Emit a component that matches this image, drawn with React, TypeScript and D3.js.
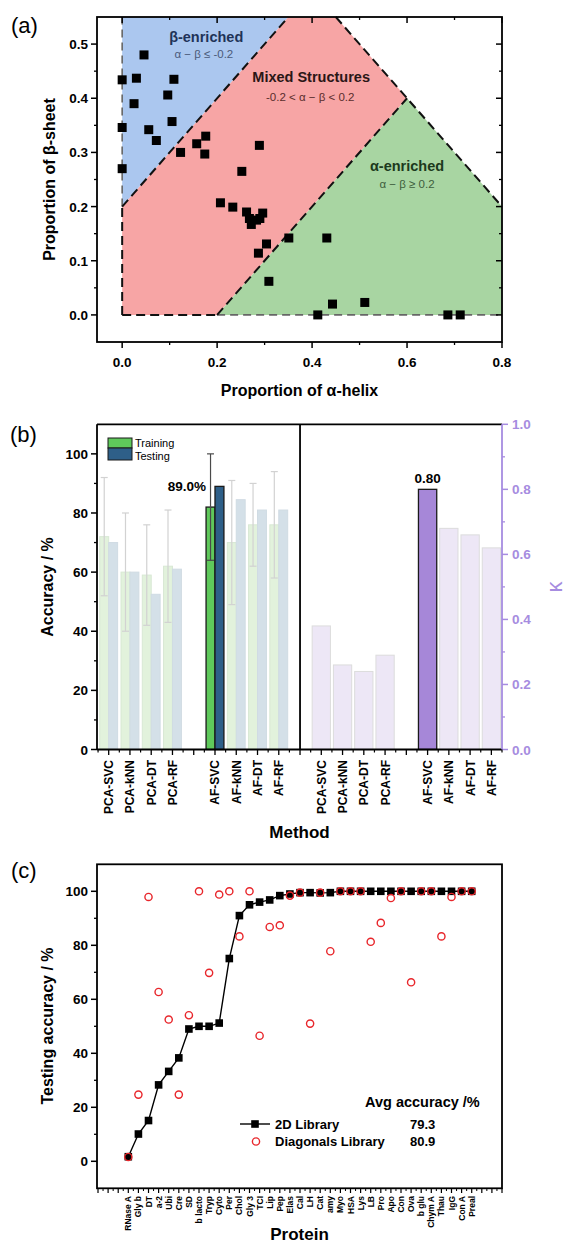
import React from 'react';
import * as d3 from 'd3';

// ---------- Panel (a) data ----------
const alphaHelix = [0, 0.046, 0.030, 0.025, 0, 0.056, 0.072, 0.096, 0.109, 0.105,
  0, 0.123, 0.157, 0.176, 0.174, 0.289, 0.252, 0.207, 0.233, 0.262,
  0.268, 0.272, 0.283, 0.290, 0.296, 0.304, 0.287, 0.309, 0.351, 0.431,
  0.412, 0.443, 0.511, 0.686, 0.712];
const betaSheet = [0.434, 0.48, 0.437, 0.39, 0.346, 0.342, 0.322, 0.406, 0.435, 0.357,
  0.27, 0.30, 0.316, 0.33, 0.297, 0.313, 0.265, 0.207, 0.199, 0.19,
  0.178, 0.167, 0.175, 0.178, 0.188, 0.131, 0.114, 0.062, 0.142, 0.142,
  0, 0.02, 0.023, 0, 0];
const betaRegion = [[0, 0.2], [0, 0.55], [0.35, 0.55]];
const mixedRegion = [[0, 0], [0.2, 0], [0.6, 0.4], [0.45, 0.55], [0.35, 0.55], [0, 0.2]];
const alphaRegion = [[0.2, 0], [0.8, 0], [0.8, 0.2], [0.6, 0.4]];
const dashedBounds = [
  [[0, 0.2], [0.35, 0.55]],
  [[0.2, 0], [0.6, 0.4]],
  [[0.45, 0.55], [0.8, 0.2]],
  [[0, 0], [0, 0.2]],
  [[0, 0], [0.2, 0]],
];
const greyBounds = [
  [[0, 0.2], [0, 0.55]],
  [[0.2, 0], [0.8, 0]],
];
const xTicksA = [0, 0.2, 0.4, 0.6, 0.8];
const yTicksA = [0, 0.1, 0.2, 0.3, 0.4, 0.5];

// ---------- Panel (b) data ----------
const methods = ['PCA-SVC', 'PCA-kNN', 'PCA-DT', 'PCA-RF', 'AF-SVC', 'AF-kNN', 'AF-DT', 'AF-RF'];
const trainAcc = [72, 60, 59, 62, 82, 70, 76, 76];
const trainErr = [20, 20, 17, 19, 18, 21, 14, 18];
const testAcc = [70, 60, 52.5, 61, 89, 84.5, 81, 81];
const kappa = [0.38, 0.26, 0.24, 0.29, 0.80, 0.68, 0.66, 0.62];
const highlightMethod = 'AF-SVC';
const accTicks = [0, 20, 40, 60, 80, 100];
const kappaTicks = [0, 0.2, 0.4, 0.6, 0.8, 1.0];

// ---------- Panel (c) data ----------
const proteins = ['RNase A', 'Gly b', 'DT', 'a-2', 'Ubi', 'Cre', 'SD', 'b lacto', 'Tryp', 'Cyto',
  'Per', 'Chol', 'Gly 3', 'TCI', 'Lip', 'Pep', 'Elas', 'Cal', 'LH', 'Cat',
  'amy', 'Myo', 'HSA', 'Lys', 'LB', 'Pro', 'Apo', 'Con', 'Ova', 'b glu',
  'Chym A', 'Thau', 'IgG', 'Con A', 'Preal'];
const lib2D = [1.7, 10.1, 15.1, 28.3, 33.3, 38.3, 49.0, 50.0, 50.0, 51.2,
  75.1, 91.0, 95.0, 96.0, 96.8, 98.4, 99.0, 99.5, 99.5, 99.4,
  99.5, 100, 100, 100, 100, 100, 100, 100, 100, 100,
  100, 100, 100, 100, 100];
const libDiag = [1.6, 24.7, 97.9, 62.7, 52.5, 24.7, 54.1, 100, 69.8, 98.8,
  100, 83.3, 100, 46.5, 86.8, 87.4, 98.4, 99.5, 51.0, 99.5,
  77.8, 100, 100, 100, 81.3, 88.3, 97.5, 100, 66.3, 100,
  100, 83.3, 97.9, 100, 100];
const avg2D = '79.3';
const avgDiag = '80.9';
const accTicksC = [0, 20, 40, 60, 80, 100];

const FONT = "'Liberation Sans', Arial, Helvetica, sans-serif";
const PURPLE = '#a68ce0';

export default function App() {
  // ===== Panel a scales =====
  const xA = d3.scaleLinear().domain([-0.053, 0.8]).range([97, 502]);
  const yA = d3.scaleLinear().domain([-0.05, 0.55]).range([342, 17]);
  const poly = (pts: number[][]) => pts.map(p => `${xA(p[0])},${yA(p[1])}`).join(' ');
  const lineA = d3.line<number[]>().x(p => xA(p[0])).y(p => yA(p[1]));

  // ===== Panel b scales =====
  const xB = d3.scaleLinear().domain([-0.55, 18.5]).range([97, 502]);
  const yAcc = d3.scaleLinear().domain([0, 110]).range([749.5, 424.3]);
  const yK = d3.scaleLinear().domain([0, 1]).range([749.5, 424.3]);
  const slotOf = (i: number) => i + (i >= 4 ? 1 : 0);
  const halfW = 0.42;

  // ===== Panel c scales =====
  const xC = d3.scaleLinear().domain([-3.1, 37]).range([97, 502]);
  const yC = d3.scaleLinear().domain([-10, 110]).range([1188.3, 864.3]);
  const line2D = d3.line<number>().x((_, i) => xC(i)).y(v => yC(v));

  const minorA_y = d3.range(0.05, 0.55, 0.1);
  const minorA_x = [0.1, 0.3, 0.5, 0.7];

  return (
    <svg width={567} height={1244} style={{ position: 'absolute', left: 0, top: 0, background: '#fff' }}
      fontFamily={FONT}>
      <rect x={0} y={0} width={567} height={1244} fill="#fff" />

      {/* ================= PANEL A ================= */}
      <text x={11} y={33} fontSize={22}>(a)</text>
      <polygon points={poly(betaRegion)} fill="#abc7ef" />
      <polygon points={poly(mixedRegion)} fill="#f7a5a5" />
      <polygon points={poly(alphaRegion)} fill="#a8d5a2" />
      {greyBounds.map((seg, i) => (
        <path key={'g' + i} d={lineA(seg) || ''} stroke="#666" strokeWidth={1.6} strokeDasharray="8,5" fill="none" />
      ))}
      {dashedBounds.map((seg, i) => (
        <path key={'d' + i} d={lineA(seg) || ''} stroke="#111" strokeWidth={2} strokeDasharray="9,5" fill="none" />
      ))}
      {/* region annotations */}
      <text x={xA(0.177)} y={42} fontSize={14.5} fontWeight="bold" textAnchor="middle" fill="#1f3358">β-enriched</text>
      <text x={xA(0.172)} y={58} fontSize={11.5} textAnchor="middle" fill="#4a5a7a">α − β ≤ -0.2</text>
      <text x={xA(0.398)} y={82} fontSize={14.5} fontWeight="bold" textAnchor="middle" fill="#2a1616">Mixed Structures</text>
      <text x={xA(0.396)} y={101} fontSize={11.5} textAnchor="middle" fill="#5a2c2c">-0.2 &lt; α − β &lt; 0.2</text>
      <text x={xA(0.6)} y={171} fontSize={14.5} fontWeight="bold" textAnchor="middle" fill="#1c3a1c">α-enriched</text>
      <text x={xA(0.6)} y={188} fontSize={11.5} textAnchor="middle" fill="#3d5e3d">α − β ≥ 0.2</text>
      {/* points */}
      {alphaHelix.map((a, i) => (
        <rect key={'p' + i} x={xA(a) - 4.5} y={yA(betaSheet[i]) - 4.5} width={9} height={9} fill="#000" />
      ))}
      {/* frame */}
      <rect x={97} y={17} width={405} height={325} fill="none" stroke="#000" strokeWidth={1.8} />
      {/* ticks */}
      {yTicksA.map(t => (
        <g key={'ya' + t}>
          <line x1={91} x2={97} y1={yA(t)} y2={yA(t)} stroke="#000" strokeWidth={1.5} />
          <line x1={502} x2={496} y1={yA(t)} y2={yA(t)} stroke="#000" strokeWidth={1.5} />
          <text x={88} y={yA(t) + 5} fontSize={13.5} fontWeight="bold" textAnchor="end">{t.toFixed(1)}</text>
        </g>
      ))}
      {minorA_y.map(t => (
        <g key={'yam' + t}>
          <line x1={94} x2={97} y1={yA(t)} y2={yA(t)} stroke="#000" strokeWidth={1.3} />
          <line x1={502} x2={499} y1={yA(t)} y2={yA(t)} stroke="#000" strokeWidth={1.3} />
        </g>
      ))}
      {xTicksA.map(t => (
        <g key={'xa' + t}>
          <line x1={xA(t)} x2={xA(t)} y1={342} y2={348} stroke="#000" strokeWidth={1.5} />
          <line x1={xA(t)} x2={xA(t)} y1={17} y2={23} stroke="#000" strokeWidth={1.5} />
          <text x={xA(t)} y={367} fontSize={13.5} fontWeight="bold" textAnchor="middle">{t.toFixed(1)}</text>
        </g>
      ))}
      {minorA_x.map(t => (
        <g key={'xam' + t}>
          <line x1={xA(t)} x2={xA(t)} y1={342} y2={345} stroke="#000" strokeWidth={1.3} />
          <line x1={xA(t)} x2={xA(t)} y1={17} y2={20} stroke="#000" strokeWidth={1.3} />
        </g>
      ))}
      <text x={299.5} y={396} fontSize={16} fontWeight="bold" textAnchor="middle">Proportion of α-helix</text>
      <text transform={`translate(55,179.5) rotate(-90)`} fontSize={16} fontWeight="bold" textAnchor="middle">Proportion of β-sheet</text>

      {/* ================= PANEL B ================= */}
      <text x={10} y={442} fontSize={22}>(b)</text>
      {/* accuracy bars */}
      {methods.map((m, i) => {
        const s = slotOf(i);
        const hi = m === highlightMethod;
        return (
          <g key={'acc' + m}>
            <rect x={xB(s - halfW)} y={yAcc(trainAcc[i])} width={xB(s) - xB(s - halfW)} height={yAcc(0) - yAcc(trainAcc[i])}
              fill={hi ? '#5fc95b' : '#e2f2dc'} stroke={hi ? '#1a1a1a' : '#d8e8d4'} strokeWidth={hi ? 1.3 : 1} />
            <rect x={xB(s)} y={yAcc(testAcc[i])} width={xB(s + halfW) - xB(s)} height={yAcc(0) - yAcc(testAcc[i])}
              fill={hi ? '#2e5f88' : '#d4e0e8'} stroke={hi ? '#1a1a1a' : '#d0dbe3'} strokeWidth={hi ? 1.3 : 1} />
          </g>
        );
      })}
      {methods.map((m, i) => {
        const s = slotOf(i);
        const hi = m === highlightMethod;
        const cx = xB(s - halfW / 2);
        const c = hi ? '#4a4a4a' : '#d2d2d2';
        return (
          <g key={'err' + m}>
            <line x1={cx} x2={cx} y1={yAcc(trainAcc[i] + trainErr[i])} y2={yAcc(trainAcc[i] - trainErr[i])} stroke={c} strokeWidth={1.2} />
            <line x1={cx - 3.5} x2={cx + 3.5} y1={yAcc(trainAcc[i] + trainErr[i])} y2={yAcc(trainAcc[i] + trainErr[i])} stroke={c} strokeWidth={1.2} />
            <line x1={cx - 3.5} x2={cx + 3.5} y1={yAcc(trainAcc[i] - trainErr[i])} y2={yAcc(trainAcc[i] - trainErr[i])} stroke={c} strokeWidth={1.2} />
          </g>
        );
      })}
      {/* kappa bars */}
      {methods.map((m, i) => {
        const s = slotOf(i) + 10;
        const hi = m === highlightMethod;
        return (
          <rect key={'k' + m} x={xB(s - 0.43)} y={yK(kappa[i])} width={xB(s + 0.43) - xB(s - 0.43)} height={yK(0) - yK(kappa[i])}
            fill={hi ? '#a687d8' : '#ede7f6'} stroke={hi ? '#1a1a1a' : '#dcdcdc'} strokeWidth={hi ? 1.3 : 1} />
        );
      })}
      <text x={206} y={491} fontSize={13.5} fontWeight="bold" textAnchor="end">
        {testAcc[methods.indexOf(highlightMethod)].toFixed(1)}%
      </text>
      <text x={xB(slotOf(methods.indexOf(highlightMethod)) + 10)} y={483} fontSize={13.5} fontWeight="bold" textAnchor="middle">
        {kappa[methods.indexOf(highlightMethod)].toFixed(2)}
      </text>
      {/* legend */}
      <rect x={108} y={438} width={24} height={10} fill="#5fc95b" stroke="#1a1a1a" strokeWidth={1} />
      <rect x={108} y={448} width={24} height={12} fill="#2e5f88" stroke="#1a1a1a" strokeWidth={1} />
      <text x={135} y={447} fontSize={11}>Training</text>
      <text x={135} y={460} fontSize={11}>Testing</text>
      {/* frame */}
      <line x1={97} x2={502} y1={424.3} y2={424.3} stroke="#000" strokeWidth={1.8} />
      <line x1={97} x2={502} y1={749.5} y2={749.5} stroke="#000" strokeWidth={1.8} />
      <line x1={97} x2={97} y1={424.3} y2={749.5} stroke="#000" strokeWidth={1.8} />
      <line x1={xB(9)} x2={xB(9)} y1={424.3} y2={749.5} stroke="#000" strokeWidth={1.8} />
      <line x1={502} x2={502} y1={424.3} y2={749.5} stroke={PURPLE} strokeWidth={1.8} />
      {accTicks.map(t => (
        <g key={'ab' + t}>
          <line x1={91} x2={97} y1={yAcc(t)} y2={yAcc(t)} stroke="#000" strokeWidth={1.5} />
          <text x={88} y={yAcc(t) + 5} fontSize={13.5} fontWeight="bold" textAnchor="end">{t}</text>
        </g>
      ))}
      {d3.range(10, 110, 20).map(t => (
        <line key={'abm' + t} x1={94} x2={97} y1={yAcc(t)} y2={yAcc(t)} stroke="#000" strokeWidth={1.3} />
      ))}
      {kappaTicks.map(t => (
        <g key={'kb' + t}>
          <line x1={502} x2={508} y1={yK(t)} y2={yK(t)} stroke={PURPLE} strokeWidth={1.5} />
          <text x={512} y={yK(t) + 5} fontSize={13.5} fontWeight="bold" fill={PURPLE}>{t.toFixed(1)}</text>
        </g>
      ))}
      {[0.1, 0.3, 0.5, 0.7, 0.9].map(t => (
        <line key={'kbm' + t} x1={502} x2={505} y1={yK(t)} y2={yK(t)} stroke={PURPLE} strokeWidth={1.3} />
      ))}
      {d3.range(0, 19).map(s => (
        <line key={'xbt' + s} x1={xB(s)} x2={xB(s)} y1={749.5} y2={755} stroke="#000" strokeWidth={1.3} />
      ))}
      {d3.range(-0.5, 18.6, 1).map(s => (
        <line key={'xbm' + s} x1={xB(s)} x2={xB(s)} y1={749.5} y2={752.5} stroke="#000" strokeWidth={1.2} />
      ))}
      {methods.map((m, i) => (
        <g key={'lb' + m}>
          <text transform={`translate(${xB(slotOf(i)) + 4.5},760) rotate(-90)`} fontSize={12} fontWeight="bold" textAnchor="end">{m}</text>
          <text transform={`translate(${xB(slotOf(i) + 10) + 4.5},760) rotate(-90)`} fontSize={12} fontWeight="bold" textAnchor="end">{m}</text>
        </g>
      ))}
      <text x={299.5} y={838} fontSize={17} fontWeight="bold" textAnchor="middle">Method</text>
      <text transform={`translate(53,587) rotate(-90)`} fontSize={16} fontWeight="bold" textAnchor="middle">Accuracy / %</text>
      <text transform={`translate(562,587) rotate(-90)`} fontSize={22} fill={PURPLE} textAnchor="middle">κ</text>

      {/* ================= PANEL C ================= */}
      <text x={11} y={878} fontSize={22}>(c)</text>
      <path d={line2D(lib2D) || ''} fill="none" stroke="#000" strokeWidth={1.4} />
      {lib2D.map((v, i) => (
        <rect key={'s' + i} x={xC(i) - 3.8} y={yC(v) - 3.8} width={7.6} height={7.6} fill="#000" />
      ))}
      {libDiag.map((v, i) => (
        <circle key={'c' + i} cx={xC(i)} cy={yC(v)} r={3.6} fill="none" stroke="#e8262b" strokeWidth={1.4} />
      ))}
      <rect x={97} y={864.3} width={405} height={324} fill="none" stroke="#000" strokeWidth={1.8} />
      {accTicksC.map(t => (
        <g key={'yc' + t}>
          <line x1={91} x2={97} y1={yC(t)} y2={yC(t)} stroke="#000" strokeWidth={1.5} />
          <text x={88} y={yC(t) + 5} fontSize={13.5} fontWeight="bold" textAnchor="end">{t}</text>
        </g>
      ))}
      {d3.range(10, 110, 20).map(t => (
        <line key={'ycm' + t} x1={94} x2={97} y1={yC(t)} y2={yC(t)} stroke="#000" strokeWidth={1.3} />
      ))}
      {d3.range(-3, 38).map(s => (
        <line key={'xct' + s} x1={xC(s)} x2={xC(s)} y1={1188.3} y2={1193} stroke="#000" strokeWidth={1.2} />
      ))}
      {d3.range(-2.5, 37, 1).map(s => (
        <line key={'xcm' + s} x1={xC(s)} x2={xC(s)} y1={1188.3} y2={1191} stroke="#000" strokeWidth={1} />
      ))}
      {proteins.map((p, i) => (
        <text key={'pl' + i} transform={`translate(${xC(i) + 3},1196) rotate(-90)`} fontSize={8.5} fontWeight="bold" textAnchor="end">{p}</text>
      ))}
      <text x={299.5} y={1240} fontSize={17} fontWeight="bold" textAnchor="middle">Protein</text>
      <text transform={`translate(53,1026) rotate(-90)`} fontSize={16} fontWeight="bold" textAnchor="middle">Testing accuracy / %</text>
      {/* legend */}
      <text x={365} y={1107} fontSize={14.5} fontWeight="bold">Avg accuracy /%</text>
      <line x1={240} x2={270} y1={1124} y2={1124} stroke="#000" strokeWidth={1.4} />
      <rect x={251.2} y={1120.2} width={7.6} height={7.6} fill="#000" />
      <circle cx={256} cy={1141.5} r={3.6} fill="none" stroke="#e8262b" strokeWidth={1.4} />
      <text x={275} y={1128.5} fontSize={13} fontWeight="bold">2D Library</text>
      <text x={275} y={1146} fontSize={13} fontWeight="bold">Diagonals Library</text>
      <text x={410} y={1128.5} fontSize={13} fontWeight="bold">{avg2D}</text>
      <text x={410} y={1146} fontSize={13} fontWeight="bold">{avgDiag}</text>
    </svg>
  );
}
